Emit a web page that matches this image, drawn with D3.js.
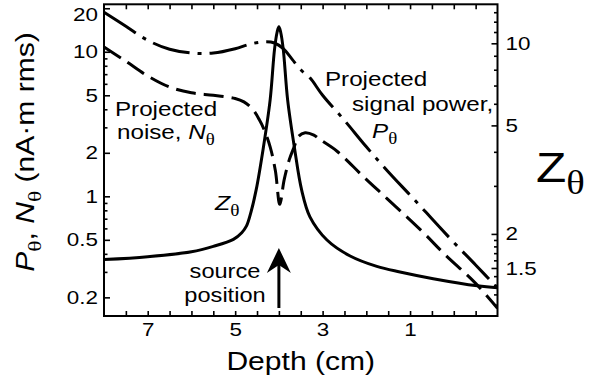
<!DOCTYPE html>
<html>
<head>
<meta charset="utf-8">
<script src="https://cdn.jsdelivr.net/npm/d3@7"></script>
<style>
  html, body { margin: 0; padding: 0; background: #fff; }
  svg { display: block; }
  text { font-family: "Liberation Sans", Arial, Helvetica, sans-serif; fill: #000; }
</style>
</head>
<body>
<svg id="chart" width="590" height="380"></svg>
<script>
// ---------- data ----------
const depthP  = [8, 7.5, 7, 6.5, 6, 5.5, 5, 4.66, 4.35, 4.1, 3.9, 3.7, 3.5, 3.29, 3.0, 2.5, 2.0, 1.5, 1.0, 0.5, 0.0, -0.5, -1.0];
const signalP = [18.8, 15.0, 12.0, 10.4, 9.8, 9.8, 10.5, 11.3, 11.7, 11.5, 10.5, 8.9, 7.5, 6.6, 5.0, 3.35, 2.2, 1.48, 1.02, 0.70, 0.48, 0.335, 0.232];

const depthN = [8, 7.5, 7, 6.5, 6, 5.5, 5, 4.8, 4.6, 4.45, 4.35, 4.2, 4.08, 3.98, 3.88, 3.76, 3.65, 3.55, 3.4, 3.2, 3.06, 2.67, 2.07, 1.52, 0.72, 0.2, -0.5, -1.0];
const noiseN = [10.8, 8.6, 6.8, 5.7, 5.2, 5.0, 4.75, 4.5, 4.0, 3.4, 2.95, 2.2, 1.5, 0.88, 1.3, 1.8, 2.2, 2.6, 2.75, 2.65, 2.47, 2.05, 1.37, 0.96, 0.57, 0.395, 0.25, 0.168];

const depthZ = [8, 7, 6, 5.5, 5.04, 4.85, 4.74, 4.64, 4.52, 4.36, 4.2, 4.1, 4.04, 4.0, 3.96, 3.9, 3.8, 3.64, 3.48, 3.29, 2.9, 2.37, 1.76, 1.23, 0.47, -0.54, -1.0];
const zetaZ  = [1.61, 1.65, 1.72, 1.80, 1.91, 2.02, 2.14, 2.4, 2.9, 4.1, 6.2, 9.5, 11.0, 11.5, 11.0, 9.5, 6.2, 4.1, 2.9, 2.31, 1.90, 1.66, 1.52, 1.45, 1.37, 1.29, 1.27];

const sourceDepth = 4.0;

const xMajor = [7, 5, 3, 1];
const xMinor = [7.5, 6.5, 6, 5.5, 4.5, 4, 3.5, 2.5, 2, 1.5, 0.5, 0, -0.5];
const yLMajor = [0.2, 0.5, 1, 2, 5, 10, 20];
const yLMinor = [0.3, 0.4, 0.6, 0.7, 0.8, 0.9, 3, 4, 6, 7, 8, 9];
const yRMajor = [1.5, 2, 5, 10];
const yRMinor = [1.1, 1.2, 1.3, 1.4, 1.6, 1.7, 1.8, 1.9, 3, 4, 6, 7, 8, 9, 11, 12, 13];

// ---------- layout ----------
const SX = 1.18; // horizontal glyph stretch of the reference font
const L = 104, R = 497.5, T = 4.3, B = 316;
const svg = d3.select("#chart");

const x  = d3.scaleLinear().domain([8, -1]).range([L, R]);
const yL = d3.scaleLog().domain([0.1486, 21.3]).range([B, T]);
const yR = d3.scaleLog().domain([1.0, 13.9]).range([B, T]);

const fmt = d => String(d);

function styleAxis(g) {
  g.select(".domain").remove();
  g.selectAll("line").attr("stroke", "#000").attr("stroke-width", 1.6);
  g.selectAll("text").attr("font-family", null).attr("fill", "#000");
}

// left
const gL = svg.append("g").attr("transform", `translate(${L},0)`)
  .call(d3.axisLeft(yL).tickValues(yLMajor).tickFormat(fmt).tickSize(-6).tickPadding(6))
  .attr("font-size", 19);
styleAxis(gL);
gL.selectAll("text").attr("x", -6 / SX).attr("transform", `scale(${SX},1)`)
  .attr("dy", d => d === 20 ? "0.62em" : "0.32em");
svg.append("g").attr("transform", `translate(${L},0)`)
  .call(d3.axisLeft(yL).tickValues(yLMinor).tickFormat("").tickSize(-3.5))
  .call(styleAxis);

// right
const gR = svg.append("g").attr("transform", `translate(${R},0)`)
  .call(d3.axisRight(yR).tickValues(yRMajor).tickFormat(fmt).tickSize(-6).tickPadding(8))
  .attr("font-size", 19);
styleAxis(gR);
gR.selectAll("text").attr("x", 8 / SX).attr("transform", `scale(${SX},1)`);
svg.append("g").attr("transform", `translate(${R},0)`)
  .call(d3.axisRight(yR).tickValues(yRMinor).tickFormat("").tickSize(-3.5))
  .call(styleAxis);

// bottom
const gB = svg.append("g").attr("transform", `translate(0,${B})`)
  .call(d3.axisBottom(x).tickValues(xMajor).tickFormat(fmt).tickSize(-5).tickPadding(7))
  .attr("font-size", 19);
styleAxis(gB);
gB.selectAll("text").attr("transform", `scale(${SX},1)`).attr("x", 0);
svg.append("g").attr("transform", `translate(0,${B})`)
  .call(d3.axisBottom(x).tickValues(xMinor).tickFormat("").tickSize(-5))
  .call(styleAxis);

// top (mirror ticks)
svg.append("g").attr("transform", `translate(0,${T})`)
  .call(d3.axisTop(x).tickValues(xMajor.concat(xMinor)).tickFormat("").tickSize(-5))
  .call(styleAxis);

// frame
svg.append("rect").attr("x", L).attr("y", T).attr("width", R - L).attr("height", B - T)
  .attr("fill", "none").attr("stroke", "#000").attr("stroke-width", 2);

// ---------- curves ----------
svg.append("clipPath").attr("id", "clip")
  .append("rect").attr("x", L).attr("y", T).attr("width", R - L).attr("height", B - T);

function drawLine(depths, values, yScale, dash) {
  const data = depths.map((d, i) => ({ d: d, v: values[i] }));
  const line = d3.line().x(p => x(p.d)).y(p => yScale(p.v)).curve(d3.curveCatmullRom.alpha(0.5));
  svg.append("path").datum(data)
    .attr("d", line)
    .attr("fill", "none")
    .attr("stroke", "#000")
    .attr("stroke-width", 3)
    .attr("stroke-dasharray", dash)
    .attr("clip-path", "url(#clip)");
}

drawLine(depthP, signalP, yL, "38,8,4,8");
drawLine(depthN, noiseN, yL, "20,8");
drawLine(depthZ, zetaZ, yR, null);

// ---------- text helper ----------
function label(x0, y0, parts, size, anchor, rot) {
  const t = svg.append("text")
    .attr("transform", `translate(${x0},${y0})${rot ? ` rotate(${rot})` : ""} scale(${SX},1)`)
    .attr("font-size", size)
    .attr("text-anchor", anchor || "start");
  let shift = 0;
  parts.forEach(p => {
    const s = t.append("tspan").text(p.t);
    if (p.i) s.attr("font-style", "italic");
    if (p.sub) {
      const dy = size * 0.28;
      s.attr("font-family", "'Liberation Serif', 'DejaVu Serif', serif")
       .attr("font-size", size * 0.78)
       .attr("dy", dy - shift);
      shift = dy;
    } else if (shift) {
      s.attr("dy", -shift);
      shift = 0;
    }
  });
  return t;
}

// axis titles
label((L + R) / 2, 370, [{ t: "Depth (cm)" }], 25.5, "middle");
label(34, 152, [{ t: "P", i: true }, { t: "θ", sub: true }, { t: ", " }, { t: "N", i: true }, { t: "θ", sub: true }, { t: " (nA·m rms)" }], 25.5, "middle", -90);
label(536, 182, [{ t: "Z" }, { t: "θ", sub: true }], 42, "start");

// annotations
label(115, 116, [{ t: "Projected" }], 20.5, "start");
label(117, 139, [{ t: "noise, " }, { t: "N", i: true }, { t: "θ", sub: true }], 20.5, "start");
label(325, 86, [{ t: "Projected" }], 20.5, "start");
label(352, 111, [{ t: "signal power," }], 20.5, "start");
label(372, 138, [{ t: "P", i: true }, { t: "θ", sub: true }], 20.5, "start");
label(215, 210, [{ t: "Z", i: true }, { t: "θ", sub: true }], 21, "start");
label(225, 278, [{ t: "source" }], 20, "middle");
label(225, 302, [{ t: "position" }], 20, "middle");

// source arrow
const ax = x(sourceDepth);
svg.append("line").attr("x1", ax).attr("x2", ax).attr("y1", 308).attr("y2", 262)
  .attr("stroke", "#000").attr("stroke-width", 3);
svg.append("path")
  .attr("d", `M${ax},248 L${ax + 12},273 L${ax},265 L${ax - 12},273 Z`)
  .attr("fill", "#000");
</script>
</body>
</html>
